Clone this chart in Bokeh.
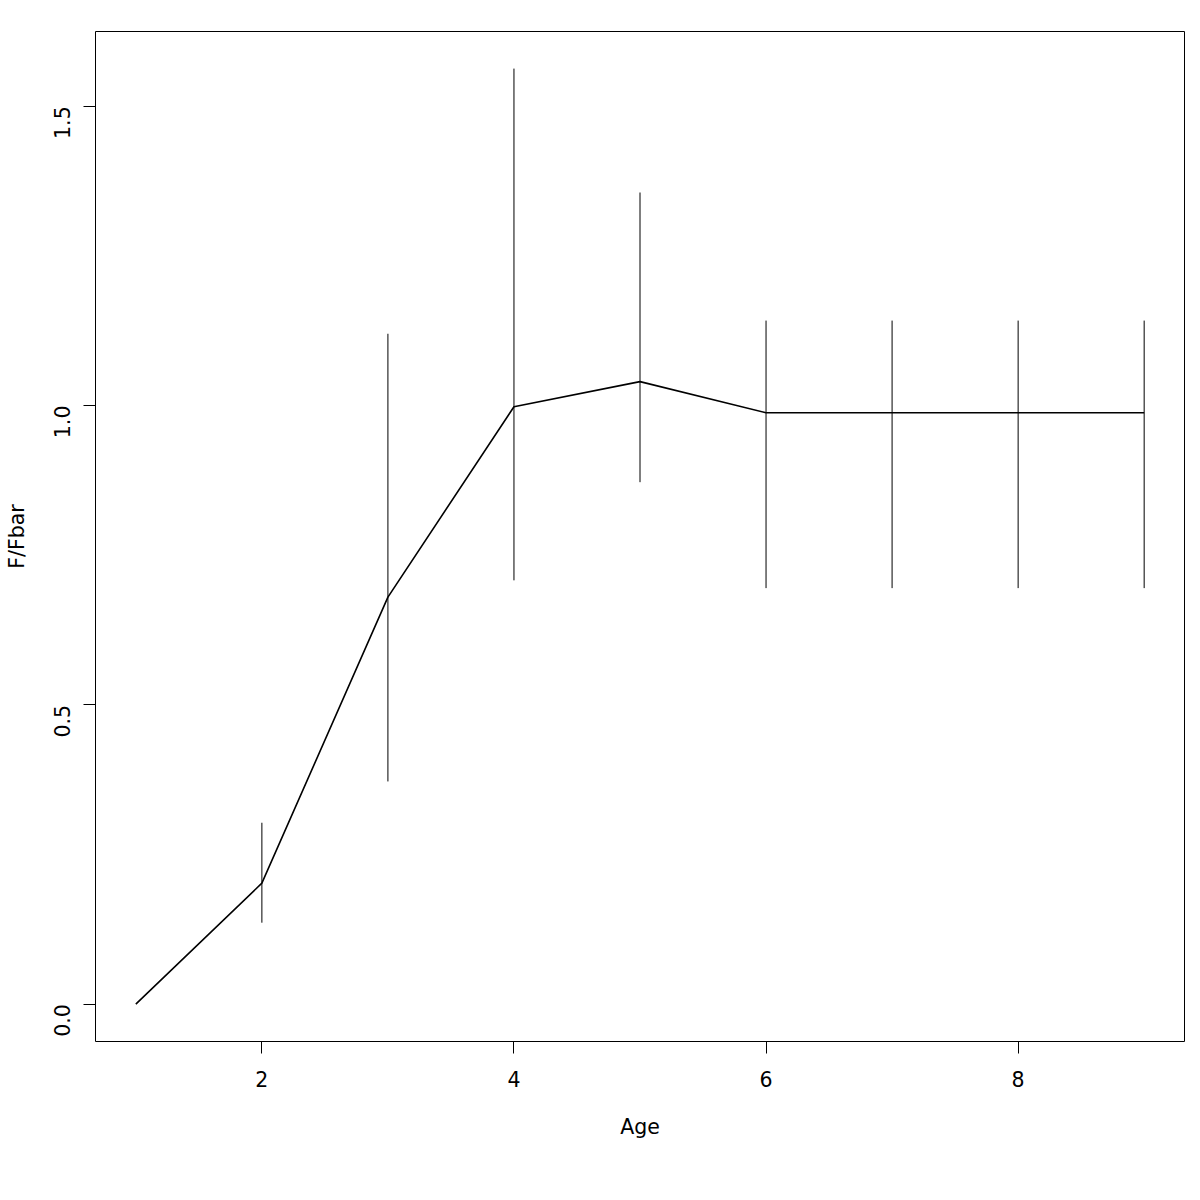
from bokeh.plotting import figure
from bokeh.models import Range1d, FixedTicker, ColumnDataSource
from bokeh.embed import file_html
from bokeh.resources import INLINE
import math

ages = [1, 2, 3, 4, 5, 6, 7, 8, 9]
f_fbar = [0.0, 0.202, 0.68, 0.998, 1.04, 0.988, 0.988, 0.988, 0.988]
err_age = [2, 3, 4, 5, 6, 7, 8, 9]
err_low = [0.136, 0.372, 0.708, 0.872, 0.695, 0.695, 0.695, 0.695]
err_high = [0.303, 1.12, 1.563, 1.356, 1.142, 1.142, 1.142, 1.142]
x_ticks = [2, 4, 6, 8]
y_ticks = [0.0, 0.5, 1.0, 1.5]
y_tick_labels = {0.0: "0.0", 0.5: "0.5", 1.0: "1.0", 1.5: "1.5"}

FONT = "DejaVu Sans"
FS = "20.5px"

p = figure(width=1200, height=1200, output_backend="svg", toolbar_location=None,
           x_range=Range1d(0.68, 9.32), y_range=Range1d(-0.0625, 1.625),
           min_border_left=95, min_border_top=31, min_border_right=16, min_border_bottom=159)
p.background_fill_color = "white"
p.border_fill_color = "white"
p.outline_line_color = "black"
p.outline_line_width = 1
p.xgrid.visible = False
p.ygrid.visible = False

src = ColumnDataSource(dict(x=err_age, y0=err_low, y1=err_high))
p.segment(x0="x", y0="y0", x1="x", y1="y1", source=src, line_color="black", line_width=1)
p.line(ages, f_fbar, line_color="black", line_width=1.6)

for ax in (p.xaxis[0], p.yaxis[0]):
    ax.axis_line_color = "black"
    ax.major_tick_line_color = "black"
    ax.major_tick_out = 12
    ax.major_tick_in = 0
    ax.minor_tick_line_color = None
    ax.major_label_text_font = FONT
    ax.major_label_text_font_size = FS
    ax.major_label_text_color = "black"
    ax.axis_label_text_font = FONT
    ax.axis_label_text_font_size = FS
    ax.axis_label_text_font_style = "normal"
    ax.axis_label_text_color = "black"

p.xaxis.ticker = FixedTicker(ticks=x_ticks)
p.xaxis.bounds = (2, 8)
p.xaxis.axis_label = "Age"
p.xaxis.major_label_standoff = 17
p.xaxis.axis_label_standoff = 25

p.yaxis.ticker = FixedTicker(ticks=y_ticks)
p.yaxis.major_label_overrides = y_tick_labels
p.yaxis.bounds = (0, 1.5)
p.yaxis.axis_label = "F/Fbar"
p.yaxis.major_label_orientation = math.pi / 2
p.yaxis.major_label_standoff = 21
p.yaxis.axis_label_standoff = 15

open("out.html", "w").write(file_html(p, INLINE))
